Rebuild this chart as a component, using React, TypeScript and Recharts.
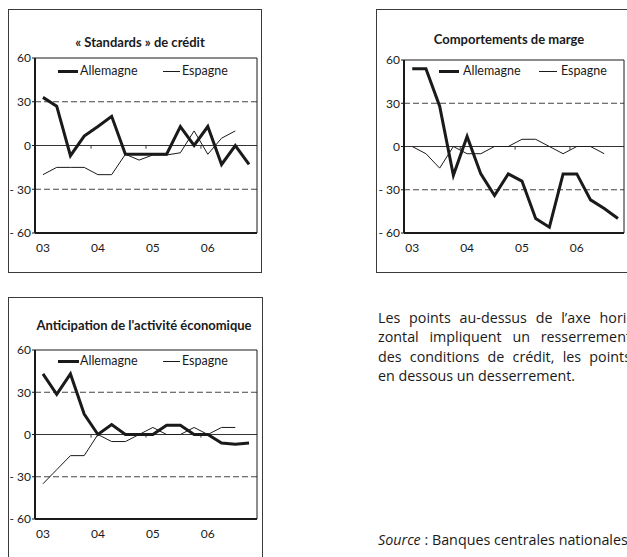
import React from "react";
import { LineChart, Line, XAxis, YAxis, ReferenceLine, Legend } from "recharts";

// trimestres 2003T1 .. 2006T4
const quarters = [
  "03T1", "03T2", "03T3", "03T4",
  "04T1", "04T2", "04T3", "04T4",
  "05T1", "05T2", "05T3", "05T4",
  "06T1", "06T2", "06T3", "06T4",
];
const yearTicks = [0, 4, 8, 12];
const yearLabels = ["03", "04", "05", "06"];
const yearBreaks = [3.5, 7.5, 11.5];
const yTicks = [-60, -30, 0, 30, 60];

const standardsAllemagne = [33, 27, -7, 6.5, 13, 20, -6, -6, -6, -6, 13, 0, 13, -13, 0, -13];
const standardsEspagne = [-20, -15, -15, -15, -20, -20, -6, -10, -6.5, -6.5, -5, 10, -6, 5, 10, null];

const margeAllemagne = [54, 54, 28, -20, 7, -19, -34, -19, -24, -50, -56, -19, -19, -37, -43, -50];
const margeEspagne = [0, -5, -15, 0, -5, -5, 0, 0, 5, 5, 0, -5, 0, 0, -5, null];

const activiteAllemagne = [43, 28.5, 43, 14.5, 0, 7, 0, 0, 0, 6.5, 6.5, 0, 0, -6, -7, -6];
const activiteEspagne = [-35, -25, -15, -15, 0, -5, -5, 0, 5, 0, 0, 5, 0, 5, 5, null];

const FONT = "Lato, 'Open Sans', sans-serif";
const TEXT_FONT = "'Open Sans', 'Noto Sans', sans-serif";
const INK = "#1a1a1a";

type Box = { left: number; top: number; width: number; height: number };
type Plot = { left: number; top: number; right: number; bottom: number };
type LegendPos = { y: number; thick: [number, number]; allText: number; thin: [number, number]; espText: number };

// espace insécable : sinon le Text de recharts coupe "- 30" sur deux lignes
function fmtY(v: number) {
  return v < 0 ? `-\u00a0${Math.abs(v)}` : String(v);
}

function LegendBox({ pos }: { pos: LegendPos }) {
  const txt: React.CSSProperties = {
    position: "absolute",
    top: 0,
    fontSize: 12.5,
    lineHeight: "16px",
    color: INK,
    whiteSpace: "nowrap",
  };
  return (
    <div style={{ position: "relative", height: 16, width: 240, fontFamily: FONT }}>
      <span style={{ position: "absolute", left: pos.thick[0], width: pos.thick[1] - pos.thick[0], top: 6.5, height: 3, background: INK }} />
      <span style={{ ...txt, left: pos.allText }}>Allemagne</span>
      <span style={{ position: "absolute", left: pos.thin[0], width: pos.thin[1] - pos.thin[0], top: 7.5, height: 1, background: INK }} />
      <span style={{ ...txt, left: pos.espText }}>Espagne</span>
    </div>
  );
}

function Panel({
  box,
  plot,
  xDomain,
  title,
  titleX,
  titleY,
  legend,
  allemagne,
  espagne,
}: {
  box: Box;
  plot: Plot;
  xDomain: [number, number];
  title: string;
  titleX: number;
  titleY: number;
  legend: LegendPos;
  allemagne: (number | null)[];
  espagne: (number | null)[];
}) {
  const data = quarters.map((q, i) => ({ i, q, allemagne: allemagne[i], espagne: espagne[i] }));
  const yAxisW = 24;
  const xAxisH = 20;
  const margin = {
    top: plot.top - box.top,
    right: box.left + box.width - plot.right,
    bottom: box.top + box.height - plot.bottom - xAxisH,
    left: plot.left - box.left - yAxisW,
  };

  return (
    <div
      style={{
        position: "absolute",
        left: box.left,
        top: box.top,
        width: box.width,
        height: box.height,
        boxSizing: "border-box",
        border: "1px solid #3a3a3a",
      }}
    >
      <div
        style={{
          position: "absolute",
          left: titleX - 150 - 1,
          top: titleY - 8 - 1,
          width: 300,
          textAlign: "center",
          fontFamily: FONT,
          fontWeight: 700,
          fontSize: 13,
          lineHeight: "16px",
          color: INK,
          whiteSpace: "nowrap",
        }}
      >
        {title}
      </div>
      <div style={{ position: "absolute", left: -1, top: -1 }}>
        <LineChart width={box.width} height={box.height} data={data} margin={margin}>
          <XAxis
            type="number"
            dataKey="i"
            domain={xDomain}
            allowDataOverflow
            ticks={yearTicks}
            interval={0}
            tickFormatter={(v: number) => yearLabels[yearTicks.indexOf(v)] ?? ""}
            tickLine={false}
            tickSize={0}
            tickMargin={10}
            height={xAxisH}
            axisLine={{ stroke: INK, strokeWidth: 2 }}
            tick={{ fontSize: 12, fill: INK, fontFamily: FONT }}
          />
          <YAxis
            type="number"
            domain={[-60, 60]}
            ticks={yTicks}
            interval={0}
            width={yAxisW}
            tickSize={3}
            tickMargin={1}
            tickFormatter={fmtY}
            tickLine={{ stroke: INK }}
            axisLine={{ stroke: INK, strokeWidth: 2 }}
            tick={{ fontSize: 12, fill: INK, fontFamily: FONT }}
          />
          <ReferenceLine y={30} stroke="#444" strokeDasharray="6 3" />
          <ReferenceLine y={-30} stroke="#444" strokeDasharray="6 3" />
          <ReferenceLine y={0} stroke="#333" />
          <ReferenceLine y={60} stroke={INK} />
          <ReferenceLine x={xDomain[1]} stroke={INK} />
          {yearBreaks.map((b) => (
            <ReferenceLine
              key={b}
              segment={[
                { x: b, y: 0 },
                { x: b, y: -2.2 },
              ]}
              stroke="#333"
            />
          ))}
          <Legend
            verticalAlign="middle"
            align="center"
            layout="horizontal"
            wrapperStyle={{ top: legend.y - 8, left: 0, width: 240, height: 16 }}
            content={() => <LegendBox pos={legend} />}
          />
          <Line
            type="linear"
            dataKey="espagne"
            stroke={INK}
            strokeWidth={1}
            dot={false}
            activeDot={false}
            isAnimationActive={false}
          />
          <Line
            type="linear"
            dataKey="allemagne"
            stroke={INK}
            strokeWidth={3}
            dot={false}
            activeDot={false}
            isAnimationActive={false}
          />
        </LineChart>
      </div>
    </div>
  );
}

export default function App() {
  const para: React.CSSProperties = {
    textAlign: "justify",
    textAlignLast: "justify",
    whiteSpace: "nowrap",
  };
  return (
    <div
      style={{
        position: "absolute",
        left: 0,
        top: 0,
        width: 627,
        height: 557,
        overflow: "hidden",
        background: "#fff",
      }}
    >
      <Panel
        box={{ left: 8, top: 9, width: 254, height: 264 }}
        plot={{ left: 35, top: 58, right: 257, bottom: 233 }}
        xDomain={[-0.58, 15.58]}
        title="« Standards » de crédit"
        titleX={132}
        titleY={33}
        legend={{ y: 62, thick: [50, 70], allText: 72, thin: [155, 172], espText: 174 }}
        allemagne={standardsAllemagne}
        espagne={standardsEspagne}
      />
      <Panel
        box={{ left: 376, top: 9, width: 280, height: 264 }}
        plot={{ left: 404, top: 60, right: 624, bottom: 233 }}
        xDomain={[-0.6, 15.44]}
        title="Comportements de marge"
        titleX={133}
        titleY={30}
        legend={{ y: 62, thick: [63, 83], allText: 87, thin: [163, 181], espText: 185 }}
        allemagne={margeAllemagne}
        espagne={margeEspagne}
      />
      <Panel
        box={{ left: 8, top: 297, width: 255, height: 280 }}
        plot={{ left: 35, top: 350, right: 257, bottom: 519 }}
        xDomain={[-0.58, 15.58]}
        title="Anticipation de l'activité économique"
        titleX={136}
        titleY={28}
        legend={{ y: 64, thick: [50, 71], allText: 72, thin: [155, 172], espText: 174 }}
        allemagne={activiteAllemagne}
        espagne={activiteEspagne}
      />

      <div
        style={{
          position: "absolute",
          left: 378,
          top: 308,
          width: 253,
          fontFamily: TEXT_FONT,
          fontSize: 14.3,
          lineHeight: "19.4px",
          color: INK,
        }}
      >
        <div style={para}>Les points au-dessus de l’axe hori-</div>
        <div style={para}>zontal impliquent un resserrement</div>
        <div style={para}>des conditions de crédit, les points</div>
        <div style={{ whiteSpace: "nowrap" }}>en dessous un desserrement.</div>
      </div>
      <div
        style={{
          position: "absolute",
          left: 378,
          top: 530,
          fontFamily: TEXT_FONT,
          fontSize: 14.3,
          lineHeight: "19px",
          color: INK,
          whiteSpace: "nowrap",
        }}
      >
        <i>Source</i> : Banques centrales nationales
      </div>
    </div>
  );
}
